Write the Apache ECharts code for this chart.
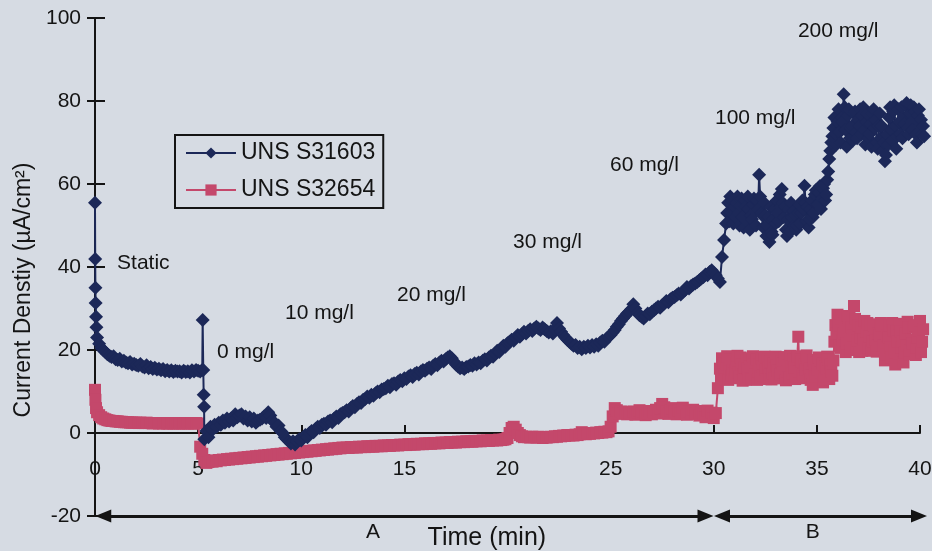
<!DOCTYPE html>
<html>
<head>
<meta charset="utf-8">
<script src="https://cdn.jsdelivr.net/npm/echarts@6/dist/echarts.min.js"></script>
<style>
html,body{margin:0;padding:0;background:#d6dbe3;}
#chart{width:932px;height:551px;}
</style>
</head>
<body>
<div id="chart"></div>
<script>
// ---------------- data ----------------
const seriesNames = ['UNS S31603', 'UNS S32654'];
const timeStep = 0.1; // min between regular samples (first sample at 0.1 min)

// UNS S31603 (diamonds)
const blueHeadTime = [0, 0.01, 0.02, 0.03, 0.05, 0.07];
const blueHeadValue = [55.5, 41.9, 35, 31.3, 28, 25.5];
const blueExtraTime = [5.22, 5.25, 5.27, 5.29];
const blueExtraValue = [27.2, 15.2, 9.2, 6.3];
const blueValues = [
  23, 21.5, 20.5, 20, 19.5, 19, 18.6, 18.3, 18.5, 17.8,
  17.6, 17.9, 17.2, 17.4, 17, 16.8, 17.1, 16.5, 16.7, 16.4,
  16.2, 16.6, 16, 15.8, 16.3, 15.6, 15.9, 15.4, 15.7, 15.3,
  15.5, 15.1, 15.4, 14.9, 15.2, 14.8, 15.1, 14.7, 15, 14.8,
  14.9, 14.6, 15, 14.7, 14.9, 14.6, 15.1, 14.8, 15.2, 15,
  14.8, 15.2, -1.5, 0.5, -1, 1.5, 0.8, 2, 1.5, 2.5,
  2, 3, 2.5, 3.5, 2.8, 3.5, 3, 4.5, 3.8, 4.2,
  4.5, 3.5, 4, 3, 3.8, 2.8, 3.5, 2.5, 3, 3.2,
  3.5, 4, 3.6, 5, 4.2, 3, 2.5, 1.5, 1.8, 0.5,
  0, -1, -1.5, -2, -2.5, -2, -2.8, -2, -1.5, -1.8,
  -1, -0.5, -1, 0, 0.5, 0.2, 1, 1.5, 1.2, 2,
  2.2, 2, 2.8, 3, 2.6, 3.5, 4, 3.6, 4.5, 4.8,
  5, 5.5, 5.2, 6, 6.5, 6.2, 7, 7.4, 7.2, 8,
  8.2, 8.8, 8.5, 9.2, 9, 9.6, 10, 9.8, 10.5, 10.6,
  10.8, 11.4, 11, 11.8, 12, 11.6, 12.4, 12.8, 12.5, 13.2,
  13, 13.6, 13.9, 13.5, 14.2, 14.5, 14.1, 14.8, 15.2, 15,
  15.5, 15.8, 15.4, 16.2, 16.6, 16.3, 17, 17.4, 17.2, 17.8,
  18.2, 18.5, 18, 17.2, 16.5, 16, 15.6, 15.8, 15.4, 15.9,
  16, 16.4, 16.2, 16.8, 16.5, 17, 16.8, 17.4, 17.8, 17.5,
  18.2, 18.6, 18.4, 19.2, 19.8, 19.5, 20.4, 21, 20.8, 21.6,
  22, 22.5, 22.2, 23, 23.6, 23.2, 23.8, 24.4, 24, 24.6,
  25, 24.6, 25.2, 25.6, 25.2, 24.8, 25.4, 25, 24.6, 24.2,
  24.5, 24, 25, 26.5, 25.2, 24.4, 23.6, 23, 22.5, 22,
  21.5, 21, 21.2, 20.5, 20.8, 20.2, 20.8, 20.5, 21, 20.6,
  21.2, 20.8, 21.4, 21, 21.8, 22.2, 22, 22.8, 23.2, 23.6,
  24.2, 24.8, 25.6, 26.2, 27, 27.6, 28.2, 28.8, 29.2, 29.8,
  31, 30, 29, 28.4, 28, 27.6, 28.2, 28.8, 28.6, 29.2,
  29.6, 30, 30.4, 30.2, 30.8, 31.2, 31.8, 31.5, 32.2, 32.6,
  32.8, 33.2, 33.6, 33.4, 34, 34.4, 35.2, 34.8, 35.4, 35.8,
  36, 36.4, 36.8, 37.2, 37.6, 38.2, 38, 38.8, 39.2, 38.6,
  38, 37.2, 36.4, 42.4, 46.5, 50.5, 55.5, 57, 56, 54.5,
  55.5, 53, 54.8, 52, 56, 51, 54, 52.5, 55, 53.5,
  56, 62.2, 53, 49.5, 52.5, 50, 46, 48.5, 51.5, 50.5,
  53, 57.5, 58.8, 52, 49, 51.5, 48.5, 52, 50, 49,
  53, 50.5, 56, 59.6, 51, 49.5, 54, 52, 57.5, 55,
  58, 54, 59, 56, 61, 66, 70, 73.5, 72, 75,
  72.5, 76, 81.6, 73, 76.5, 71, 74, 77, 72.5, 75.5,
  78, 76.5, 73, 75, 71, 74.5, 77, 73.5, 70, 74,
  71, 68, 65.5, 72, 76, 73, 77.5, 74, 71.5, 75,
  78.5, 76, 79, 73.5, 77, 75, 78.5, 72, 76.5, 74,
  72, 71.5, 86.7
];
// extra in-between samples of the dense 30.65-40.15 min blob (every 0.1 min, offset 0.05)
const blueFillStart = 30.65;
const blueFillValues = [
  53, 51, 53, 50.5,
  52, 57, 50, 56.5, 49.5, 54.5, 57, 49, 51.5, 56.5,
  50, 54, 57, 52.5, 55.5, 47.5, 52, 54.5, 47.8, 54,
  56, 51, 54.5, 55.5, 54.5, 47.5, 54, 55.5, 53.5, 52.5,
  50, 55, 53, 54, 55.5, 54.5, 51.5, 56, 53, 58.5,
  55, 59.5, 56.5, 60, 57.5, 63, 68, 71.5, 76, 69.5,
  78, 70, 75, 78.5, 69, 78, 73.5, 70.5, 77.5, 71,
  74, 72, 78.5, 69.5, 77, 72, 69, 78, 75.5, 68.5,
  77, 74, 70, 67, 69.5, 78.5, 70.5, 79, 68.5, 78,
  72, 71, 74.5, 79.5, 72, 79, 73, 77.5, 70, 78,
  75.5, 74
];

// UNS S32654 (squares)
const redHeadTime = [0, 0.02, 0.05];
const redHeadValue = [10.4, 8, 6];
const redValues = [
  5, 4.3, 3.8, 3.5, 3.3, 3.1, 3, 2.9, 2.9, 2.8,
  2.8, 2.7, 2.7, 2.6, 2.6, 2.6, 2.5, 2.5, 2.5, 2.5,
  2.4, 2.5, 2.4, 2.4, 2.5, 2.4, 2.4, 2.3, 2.4, 2.4,
  2.3, 2.4, 2.3, 2.4, 2.3, 2.3, 2.4, 2.3, 2.3, 2.4,
  2.3, 2.3, 2.4, 2.3, 2.3, 2.4, 2.3, 2.3, 2.4, 2.3,
  -3.3, -5, -6.5, -7.2, -7, -6.8, -6.9, -6.6, -6.8, -6.5,
  -6.6, -6.4, -6.5, -6.3, -6.4, -6.2, -6.3, -6.1, -6.2, -6,
  -6.1, -5.9, -6, -5.8, -5.9, -5.7, -5.8, -5.6, -5.7, -5.5,
  -5.6, -5.4, -5.5, -5.3, -5.4, -5.2, -5.3, -5.1, -5.2, -5,
  -5.1, -4.9, -5, -4.8, -4.9, -4.7, -4.8, -4.6, -4.7, -4.5,
  -4.6, -4.4, -4.5, -4.3, -4.4, -4.2, -4.3, -4.1, -4.2, -4,
  -4.1, -3.9, -4, -3.8, -3.9, -3.7, -3.8, -3.6, -3.7, -3.5,
  -3.6, -3.5, -3.6, -3.4, -3.5, -3.4, -3.5, -3.3, -3.4, -3.3,
  -3.4, -3.2, -3.3, -3.2, -3.3, -3.1, -3.2, -3.1, -3.2, -3,
  -3.1, -3, -3.1, -2.9, -3, -2.9, -3, -2.8, -2.9, -2.8,
  -2.9, -2.7, -2.8, -2.7, -2.8, -2.6, -2.7, -2.6, -2.7, -2.5,
  -2.6, -2.5, -2.6, -2.4, -2.5, -2.4, -2.5, -2.3, -2.4, -2.3,
  -2.4, -2.2, -2.3, -2.2, -2.3, -2.1, -2.2, -2.1, -2.2, -2,
  -2.1, -2, -2.1, -1.9, -2, -1.9, -2, -1.8, -1.9, -1.8,
  -1.9, -1.7, -1.8, -1.7, -1.8, -1.6, -1.7, -1.6, -1.5, -1.2,
  0, 1.2, 1.5, 0.8, 0, -0.5, -0.8, -1, -0.9, -1,
  -1.1, -0.9, -1, -1.1, -0.9, -1, -1.2, -1, -1.1, -1,
  -0.9, -1, -0.8, -0.9, -0.7, -0.8, -0.6, -0.7, -0.5, -0.6,
  -0.5, -0.6, -0.4, -0.5, -0.3, 0.2, -0.2, -0.3, -0.1, -0.2,
  0, -0.1, 0.1, 0, 0.2, 0.1, 0.3, 0.2, 0.4, 1.5,
  4, 6, 5.5, 4.8, 5.2, 4.6, 5, 4.5, 5, 4.7,
  5.2, 4.4, 4.9, 5.5, 4.6, 5.1, 4.3, 4.8, 5.3, 4.5,
  5, 5.6, 4.7, 6, 7, 6.2, 5.2, 4.6, 5.4, 6,
  5.1, 4.5, 5.5, 4.8, 6.1, 5, 4.4, 5.2, 4.7, 5.6,
  4.6, 5.3, 4.2, 5, 4.5, 3.8, 5.4, 4.3, 4.9, 3.6,
  4.8, 10.8, 15.5, 18, 14, 16.5, 12.8, 17.8, 15, 13.2,
  17, 14.5, 18.2, 12.6, 15.8, 17.5, 13.5, 16, 18.5, 14.2,
  12.8, 16.5, 18, 13.8, 15.2, 17.6, 14, 12.9, 16.8, 18.4,
  15, 13.2, 17.2, 14.6, 12.7, 16.2, 18.6, 14.4, 15.8, 17.8,
  23.2, 17.8, 14, 16.5, 18.7, 13.6, 12.8, 11.6, 15, 17,
  18.2, 14.5, 12.2, 16, 18.4, 13, 14.8, 17.5, 26, 28.5,
  21, 27.5, 24, 19.5, 28.2, 22.5, 25.5, 30.6, 20, 26,
  23, 19.8, 27, 24.5, 20.5, 26.2, 22, 25, 19.6, 24,
  26.5, 21, 17.5, 23.5, 26, 18.2, 24.8, 16.5, 22, 26.3,
  20.5, 17, 24, 26.8, 19, 22.5, 25.5, 18.8, 23, 27,
  22, 41
];
// extra in-between samples of the dense 30.35-40.15 min blob
const redFillStart = 30.35;
const redFillValues = [
  13.5, 16.8, 13, 18.5, 15.5, 13.8, 17.2,
  15, 18.6, 13.6, 16.5, 14, 12.8, 15.5, 18, 13, 16.5,
  17.8, 14.8, 13.5, 16, 18.4, 13, 15.8, 17.2, 14.4, 13.2,
  16.2, 18, 14.2, 16.8, 18.3, 14.8, 13.4, 16, 17.6, 13,
  18.5, 14.8, 17.2, 13.2, 15.2, 17.6, 15.5, 13.8, 17.5, 13.6,
  15.2, 17.4, 16.8, 13.6, 15.5, 17.8, 16.4, 13.8, 22, 24,
  25.8, 20.5, 22.5, 26.5, 21.5, 27.8, 20, 23.5, 27.5, 22.2,
  19.5, 25.5, 22.5, 20, 26.5, 23.2, 19.8, 26, 22.4, 21,
  23.5, 25.8, 21, 19, 23, 20.5, 26.5, 20, 24.5, 19.2,
  24.5, 22, 19.5, 21, 25.5, 19.8, 21.5, 26, 20.5, 24.8,
  19.5, 25
];

// annotations: text, time (min), value
const annoText = ['Static', '0 mg/l', '10 mg/l', '20 mg/l', '30 mg/l', '60 mg/l', '100 mg/l', '200 mg/l'];
const annoTime = [1.07, 5.92, 9.21, 14.64, 20.27, 24.97, 30.06, 34.08];
const annoValue = [41.0, 19.5, 28.9, 33.3, 46.0, 64.6, 75.9, 96.9];

// period arrows along the bottom (time from, time to, at value)
const periodFrom = [0.4, 30.4];
const periodTo = [29.6, 39.95];
const periodValue = -20;
const periodText = ['A', 'B'];
const periodTextTime = [13.48, 34.8];
const periodTextValue = -23.9;

const xAxisTitle = 'Time (min)';
const xAxisTitleTime = 19.0;
const xAxisTitleValue = -25.3;
const yAxisTitle = 'Current Denstiy (µA/cm²)';

// ---------------- chart ----------------
function buildPoints(headT, headV, gridV, fillStart, fillV, extraT, extraV) {
  const pts = [];
  headT.forEach((t, i) => pts.push([t, headV[i]]));
  gridV.forEach((v, i) => pts.push([Math.round((i + 1) * timeStep * 100) / 100, v]));
  fillV.forEach((v, i) => pts.push([Math.round((fillStart + i * timeStep) * 100) / 100, v]));
  extraT.forEach((t, i) => pts.push([t, extraV[i]]));
  pts.sort((a, b) => a[0] - b[0]);
  const out = pts.map(p => ({value: p}));
  out[out.length - 1].symbol = 'none'; // recording ends with a bare line
  return out;
}
const bluePts = buildPoints(blueHeadTime, blueHeadValue, blueValues, blueFillStart, blueFillValues, blueExtraTime, blueExtraValue);
const redPts = buildPoints(redHeadTime, redHeadValue, redValues, redFillStart, redFillValues, [], []);

const FONT = "'Liberation Sans', Arial, Helvetica, sans-serif";
const INK = '#141414';
const BLUE = '#1c2858';
const RED = '#c4486b';

const chart = echarts.init(document.getElementById('chart'), null, {renderer: 'canvas'});

const baseY = {type: 'value', min: -20, max: 100, interval: 20, position: 'left', splitLine: {show: false}};

const option = {
  backgroundColor: '#d6dbe3',
  animation: false,
  textStyle: {fontFamily: FONT},
  grid: {left: 95, right: 12, top: 18, bottom: 35, containLabel: false, outerBoundsMode: 'none'},
  legend: {
    data: [seriesNames[0], seriesNames[1]],
    orient: 'vertical', left: 175, top: 135,
    padding: [6, 8, 6, 10], itemGap: 13, itemWidth: 50, itemHeight: 14,
    borderColor: INK, borderWidth: 2, backgroundColor: 'transparent',
    textStyle: {fontSize: 23, color: INK, fontFamily: FONT, lineHeight: 24},
    selectedMode: false
  },
  xAxis: {
    type: 'value', min: 0, max: 40, interval: 5, position: 'bottom', splitLine: {show: false},
    axisLine: {show: true, onZero: true, lineStyle: {color: INK, width: 2}},
    axisTick: {show: true, inside: true, length: 8, lineStyle: {color: INK, width: 2}},
    // labels sit just under the zero line (the grid edge is at -20)
    axisLabel: {margin: -57, fontSize: 21, color: INK, fontFamily: FONT}
  },
  yAxis: [
    Object.assign({}, baseY, {
      axisLine: {show: true, onZero: false, lineStyle: {color: INK, width: 2}},
      axisTick: {show: true, inside: false, length: 8, lineStyle: {color: INK, width: 2}},
      axisLabel: {margin: 14, fontSize: 21, color: INK, fontFamily: FONT}
    }),
    Object.assign({}, baseY, {
      axisLine: {show: true, onZero: false, lineStyle: {color: INK, width: 2}},
      axisTick: {show: true, inside: true, length: 10, lineStyle: {color: INK, width: 2}},
      axisLabel: {show: false}
    })
  ],
  series: [
    {
      name: seriesNames[1], type: 'line', xAxisIndex: 0, yAxisIndex: 0,
      data: redPts, symbol: 'rect', symbolSize: 12, showAllSymbol: true, clip: false,
      color: RED, lineStyle: {color: RED, width: 2}, itemStyle: {color: RED},
      silent: true, z: 2,
      markLine: {
        silent: true, animation: false,
        symbol: ['triangle', 'triangle'], symbolSize: [13, 16],
        lineStyle: {color: INK, width: 3, type: 'solid'},
        label: {show: false},
        emphasis: {disabled: true},
        data: periodFrom.map((f, i) => [{coord: [f, periodValue]}, {coord: [periodTo[i], periodValue]}])
      }
    },
    {
      name: seriesNames[0], type: 'line', xAxisIndex: 0, yAxisIndex: 0,
      data: bluePts, symbol: 'diamond', symbolSize: 14, showAllSymbol: true, clip: false,
      color: BLUE, lineStyle: {color: BLUE, width: 2}, itemStyle: {color: BLUE},
      silent: true, z: 3
    }
  ]
};
chart.setOption(option);

function px(t, v) { return chart.convertToPixel({seriesIndex: 0}, [t, v]); }
function txt(p, s, size, align) {
  return {
    type: 'text', x: p[0], y: p[1], silent: true, z: 100,
    style: {text: s, fill: INK, font: size + 'px ' + FONT, fontSize: size, fontFamily: FONT,
            textAlign: align, align: align, textVerticalAlign: 'middle', verticalAlign: 'middle'}
  };
}
const elements = [];
annoText.forEach((s, i) => elements.push(txt(px(annoTime[i], annoValue[i]), s, 21, 'left')));
periodText.forEach((s, i) => elements.push(txt(px(periodTextTime[i], periodTextValue), s, 21, 'center')));
elements.push(txt(px(xAxisTitleTime, xAxisTitleValue), xAxisTitle, 25, 'center'));
const yTitle = txt([24, 290], yAxisTitle, 23, 'center');
yTitle.rotation = Math.PI / 2;
elements.push(yTitle);
chart.setOption({graphic: {elements: elements}});
</script>
</body>
</html>
